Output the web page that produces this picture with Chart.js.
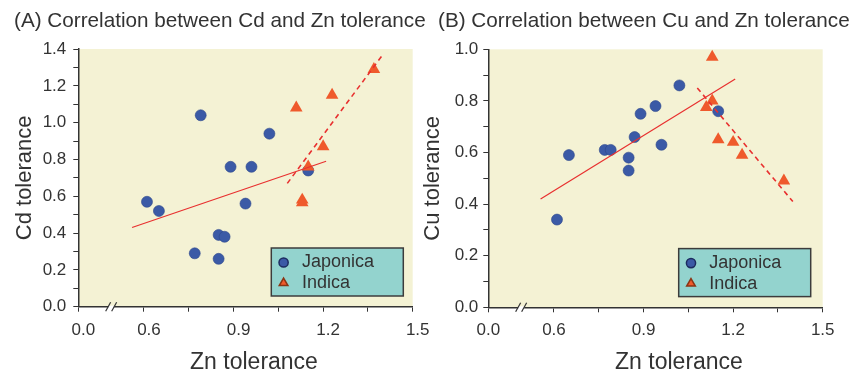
<!DOCTYPE html>
<html>
<head>
<meta charset="utf-8">
<script src="https://cdn.jsdelivr.net/npm/chart.js"></script>
<style>
  html, body { margin: 0; padding: 0; background: #fff; }
  .stage { position: relative; width: 850px; height: 373px; overflow: hidden; font-family: "Liberation Sans", Arial, sans-serif; color: #333; }
  .panel-title { position: absolute; top: 8px; font-size: 20.7px; line-height: 24px; white-space: nowrap; }
  .x-title { position: absolute; top: 346.7px; width: 200px; margin-left: -100px; text-align: center; font-size: 23px; line-height: 28px; white-space: nowrap; }
  canvas { position: absolute; top: 0; }
</style>
</head>
<body>
<div class="stage">
  <canvas id="chartA" width="440" height="373" style="left:0"></canvas>
  <canvas id="chartB" width="429" height="373" style="left:421px"></canvas>
  <div class="panel-title" style="left:14px">(A) Correlation between Cd and Zn tolerance</div>
  <div class="panel-title" style="left:438px">(B) Correlation between Cu and Zn tolerance</div>
  <div class="x-title" style="left:254px">Zn tolerance</div>
  <div class="x-title" style="left:679px">Zn tolerance</div>
</div>
<script>
// --- data ---
// Zn tolerance axis is broken: the "0.0" tick sits where 0.38 would be
const zincTicks = [0.38, 0.6, 0.75, 0.9, 1.05, 1.2, 1.35, 1.5];
const zincTickLabels = ["0.0", "0.6", "", "0.9", "", "1.2", "", "1.5"];
const zincBreakAt = 0.49;

const cdTicks = [0, 0.1, 0.2, 0.3, 0.4, 0.5, 0.6, 0.7, 0.8, 0.9, 1.0, 1.1, 1.2, 1.3, 1.4];
const cdTickLabels = ["0.0", "", "0.2", "", "0.4", "", "0.6", "", "0.8", "", "1.0", "", "1.2", "", "1.4"];
const cuTicks = [0, 0.1, 0.2, 0.3, 0.4, 0.5, 0.6, 0.7, 0.8, 0.9, 1.0];
const cuTickLabels = ["0.0", "", "0.2", "", "0.4", "", "0.6", "", "0.8", "", "1.0"];

// (A) Cd vs Zn
const cdJaponicaZn = [0.61, 0.65, 0.79, 0.77, 0.85, 0.87, 0.85, 0.89, 0.96, 0.94, 1.02, 1.15];
const cdJaponicaCd = [0.57, 0.52, 1.04, 0.29, 0.39, 0.38, 0.26, 0.76, 0.76, 0.56, 0.94, 0.74];
const cdIndicaZn = [1.11, 1.23, 1.37, 1.20, 1.15, 1.13, 1.13];
const cdIndicaCd = [1.08, 1.15, 1.29, 0.87, 0.76, 0.58, 0.565];
const cdFitJaponicaZn = [0.56, 1.21];
const cdFitJaponicaCd = [0.43, 0.79];
const cdFitIndicaZn = [1.08, 1.40];
const cdFitIndicaCd = [0.67, 1.37];

// (B) Cu vs Zn
const cuJaponicaZn = [0.61, 0.65, 0.77, 0.79, 0.85, 0.85, 0.87, 0.89, 0.94, 0.96, 1.02, 1.15];
const cuJaponicaCu = [0.34, 0.59, 0.61, 0.61, 0.58, 0.53, 0.66, 0.75, 0.78, 0.63, 0.86, 0.76];
const cuIndicaZn = [1.13, 1.11, 1.13, 1.15, 1.20, 1.23, 1.37];
const cuIndicaCu = [0.97, 0.775, 0.80, 0.65, 0.64, 0.59, 0.49];
const cuFitJaponicaZn = [0.555, 1.207];
const cuFitJaponicaCu = [0.42, 0.885];
const cuFitIndicaZn = [1.08, 1.40];
const cuFitIndicaCu = [0.85, 0.41];

const FONT = "'Liberation Sans', Arial, sans-serif";
const INK = "#333";
const BLUE = "#3b5aa6";
const ORANGE = "#ef5a2c";
const FIT_RED = "#e8302f";

const pts = (xs, ys) => xs.map((x, i) => ({ x: x, y: ys[i] }));

const plotBackground = {
  id: "plotBackground",
  beforeDraw(chart) {
    const { ctx, chartArea: a } = chart;
    ctx.save();
    ctx.fillStyle = "#f4f2d4";
    ctx.fillRect(a.left, a.top, a.right - a.left, a.bottom - a.top);
    ctx.restore();
  },
};

const axisBreak = {
  id: "axisBreak",
  afterDraw(chart) {
    const { ctx, chartArea: a } = chart;
    const bx = chart.scales.x.getPixelForValue(zincBreakAt);
    const by = a.bottom;
    ctx.save();
    ctx.fillStyle = "#fff";
    ctx.fillRect(bx - 3, by - 1, 6, 3);
    ctx.strokeStyle = INK;
    ctx.lineWidth = 1.2;
    [-3, 3].forEach((dx) => {
      ctx.beginPath();
      ctx.moveTo(bx + dx - 2.5, by + 4.5);
      ctx.lineTo(bx + dx + 2.5, by - 4.5);
      ctx.stroke();
    });
    ctx.restore();
  },
};

// legend box sits inside the plot, lower right
const insideLegend = {
  id: "insideLegend",
  afterDraw(chart, args, opts) {
    const { ctx, chartArea: a } = chart;
    const w = 132, h = 48;
    const x = a.right - opts.right - w;
    const y = a.bottom - opts.bottom - h;
    ctx.save();
    ctx.fillStyle = "#93d3ce";
    ctx.fillRect(x, y, w, h);
    ctx.strokeStyle = "#3c3c3c";
    ctx.lineWidth = 1.5;
    ctx.strokeRect(x, y, w, h);

    const rows = [
      { label: "Japonica", style: "circle", radius: 4.6, fill: BLUE, edge: "#1d2c60" },
      { label: "Indica", style: "triangle", radius: 5, fill: ORANGE, edge: "#8a3515" },
    ];
    rows.forEach((r, i) => {
      const cy = y + 14.5 + i * 20.5;
      ctx.fillStyle = r.fill;
      ctx.strokeStyle = r.edge;
      Chart.helpers.drawPoint(ctx, { pointStyle: r.style, radius: r.radius, borderWidth: 0.8 }, x + 12.3, cy);
      ctx.fillStyle = INK;
      ctx.font = "18px " + FONT;
      ctx.textBaseline = "middle";
      ctx.textAlign = "left";
      ctx.fillText(r.label, x + 30.6, cy);
    });
    ctx.restore();
  },
};

function axisLook() {
  return {
    grid: { drawOnChartArea: false, drawTicks: true, tickLength: 5, color: INK, lineWidth: 1 },
    border: { color: INK, width: 1.5 },
  };
}

function buildPanel(id, p) {
  const ctx = document.getElementById(id).getContext("2d");
  return new Chart(ctx, {
    type: "scatter",
    data: {
      datasets: [
        {
          type: "line", label: "fit japonica", data: pts(p.fitJapX, p.fitJapY),
          borderColor: FIT_RED, borderWidth: 1.2, pointRadius: 0, fill: false,
        },
        {
          type: "line", label: "fit indica", data: pts(p.fitIndX, p.fitIndY),
          borderColor: FIT_RED, borderWidth: 1.6, borderDash: [5, 4], pointRadius: 0, fill: false,
        },
        {
          label: "Indica", data: pts(p.indX, p.indY), pointStyle: "triangle", pointRadius: 7.3,
          backgroundColor: ORANGE, borderColor: ORANGE, borderWidth: 0,
        },
        {
          label: "Japonica", data: pts(p.japX, p.japY), pointStyle: "circle", pointRadius: 5.5,
          backgroundColor: BLUE, borderColor: "#2c468c", borderWidth: 0.6,
        },
      ],
    },
    options: {
      responsive: false,
      animation: false,
      events: [],
      layout: { padding: { left: p.padLeft, right: 27.3, top: p.padTop, bottom: 0 } },
      plugins: {
        legend: { display: false },
        tooltip: { enabled: false },
        insideLegend: { right: p.legendRight, bottom: 10.7 },
      },
      scales: {
        x: Object.assign(axisLook(), {
          type: "linear",
          min: zincTicks[0],
          max: zincTicks[zincTicks.length - 1],
          afterFit: (s) => { s.height = p.xHeight; },
          afterBuildTicks: (s) => { s.ticks = zincTicks.map((v) => ({ value: v })); },
          ticks: {
            autoSkip: false, maxRotation: 0, padding: 8, color: INK,
            labelOffset: p.xLabelShift,
            font: { family: FONT, size: 17 },
            callback: (v, i) => zincTickLabels[i],
          },
          title: { display: false },
        }),
        y: Object.assign(axisLook(), {
          type: "linear",
          min: 0,
          max: p.yTicks[p.yTicks.length - 1],
          afterFit: (s) => { s.width = p.yWidth; },
          afterBuildTicks: (s) => { s.ticks = p.yTicks.map((v) => ({ value: v })); },
          ticks: {
            autoSkip: false, padding: p.yLabelGap, color: INK,
            font: { family: FONT, size: 17 },
            callback: (v, i) => p.yLabels[i],
          },
          title: {
            display: true, text: p.yTitle, color: INK,
            font: { family: FONT, size: 22, lineHeight: 1 },
            padding: { top: 0.5, bottom: 0 },
          },
        }),
      },
    },
    plugins: [plotBackground, axisBreak, insideLegend],
  });
}

buildPanel("chartA", {
  japX: cdJaponicaZn, japY: cdJaponicaCd,
  indX: cdIndicaZn, indY: cdIndicaCd,
  fitJapX: cdFitJaponicaZn, fitJapY: cdFitJaponicaCd,
  fitIndX: cdFitIndicaZn, fitIndY: cdFitIndicaCd,
  yTicks: cdTicks, yLabels: cdTickLabels, yTitle: "Cd tolerance",
  padLeft: 13.5, padTop: 49, yWidth: 64.8, xHeight: 66.3, legendRight: 9.4,
  xLabelShift: 5, yLabelGap: 7,
});

buildPanel("chartB", {
  japX: cuJaponicaZn, japY: cuJaponicaCu,
  indX: cuIndicaZn, indY: cuIndicaCu,
  fitJapX: cuFitJaponicaZn, fitJapY: cuFitJaponicaCu,
  fitIndX: cuFitIndicaZn, fitIndY: cuFitIndicaCu,
  yTicks: cuTicks, yLabels: cuTickLabels, yTitle: "Cu tolerance",
  padLeft: 0, padTop: 49.3, yWidth: 67.3, xHeight: 65.7, legendRight: 12,
  xLabelShift: 0, yLabelGap: 5,
});
</script>
</body>
</html>
